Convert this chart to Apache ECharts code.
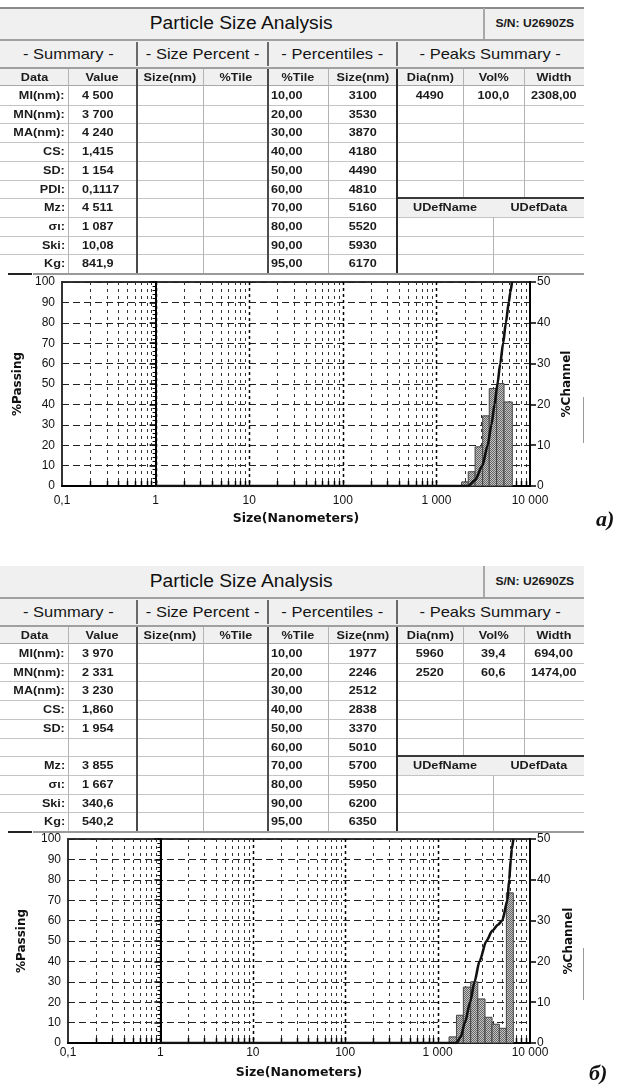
<!DOCTYPE html>
<html>
<head>
<meta charset="utf-8">
<script src="https://cdn.jsdelivr.net/npm/echarts@6/dist/echarts.min.js"></script>
<style>
  html, body { margin: 0; padding: 0; background: #fff; }
  #page { position: relative; width: 619px; height: 1089px; overflow: hidden; }
  #chart { position: absolute; left: 0; top: 0; width: 619px; height: 1089px; }
  .t { position: absolute; white-space: nowrap; font-family: 'Liberation Sans', Arial, sans-serif; color: #1b1b1b; box-sizing: border-box; }
  .t span { display: inline-block; transform: scaleX(1.1); }
  .ln { position: absolute; }
  .plabel { position: absolute; font-family: 'Liberation Serif', 'DejaVu Serif', serif; font-weight: bold; font-style: italic; font-size: 22px; color: #111; }
</style>
</head>
<body>
<div id="page"><div id="chart"></div></div>
<script>
// ---- shared labels ----
const xTickLabels = ['0,1', '1', '10', '100', '1 000', '10 000'];
const tileLabels = ['10,00', '20,00', '30,00', '40,00', '50,00', '60,00', '70,00', '80,00', '90,00', '95,00'];
const headerLabels = ['Data', 'Value', 'Size(nm)', '%Tile', '%Tile', 'Size(nm)', 'Dia(nm)', 'Vol%', 'Width'];
const sectionTitles = ['- Summary -', '- Size Percent -', '- Percentiles -', '- Peaks Summary -'];

// ---- sample а ----
const summaryNamesA = ['MI(nm):', 'MN(nm):', 'MA(nm):', 'CS:', 'SD:', 'PDI:', 'Mz:', 'σι:', 'Ski:', 'Kg:'];
const summaryValuesA = ['4 500', '3 700', '4 240', '1,415', '1 154', '0,1117', '4 511', '1 087', '10,08', '841,9'];
const percentileSizesA = [3100, 3530, 3870, 4180, 4490, 4810, 5160, 5520, 5930, 6170];
const peaksA = [['4490', '100,0', '2308,00']];
const channelEdgesA = [1860, 2190, 2590, 3120, 3670, 4400, 5280, 6470];
const channelPctA = [1.0, 3.5, 9.6, 17.2, 23.9, 25.1, 20.6];
const passSizesA = [1, 2190, 2600, 3100, 3530, 3870, 4180, 4490, 4810, 5160, 5520, 5930, 6170, 6420];
const passPctA = [0, 0, 3, 10, 20, 30, 40, 50, 60, 70, 80, 90, 95, 100];

// ---- sample б ----
const summaryNamesB = ['MI(nm):', 'MN(nm):', 'MA(nm):', 'CS:', 'SD:', '', 'Mz:', 'σι:', 'Ski:', 'Kg:'];
const summaryValuesB = ['3 970', '2 331', '3 230', '1,860', '1 954', '', '3 855', '1 667', '340,6', '540,2'];
const percentileSizesB = [1977, 2246, 2512, 2838, 3370, 5010, 5700, 5950, 6200, 6350];
const peaksB = [['5960', '39,4', '694,00'], ['2520', '60,6', '1474,00']];
const channelEdgesB = [1330, 1600, 1900, 2280, 2720, 3260, 3880, 4660, 5550, 6600];
const channelPctB = [1.5, 6.8, 13.7, 15.0, 10.8, 6.3, 4.6, 3.6, 36.8];
const passSizesB = [1, 1600, 1780, 1977, 2246, 2512, 2838, 3370, 3900, 4500, 5010, 5700, 5950, 6200, 6350, 6600];
const passPctB = [0, 0, 3, 10, 20, 30, 40, 50, 55, 58, 60, 70, 80, 90, 95, 100];

// ---- report tables (HTML) ----
const page = document.getElementById('page');
function rect(x, y, w, h, color) {
  const d = document.createElement('div');
  d.className = 'ln';
  Object.assign(d.style, { left: x + 'px', top: y + 'px', width: w + 'px', height: h + 'px', background: color });
  page.appendChild(d);
}
function text(x, y, w, h, str, o) {
  o = o || {};
  const align = o.align || 'center';
  const d = document.createElement('div');
  d.className = 't';
  Object.assign(d.style, {
    left: x + 'px', top: y + 'px', width: w + 'px', height: h + 'px', lineHeight: h + 'px',
    textAlign: align, fontSize: (o.size || 12) + 'px', fontWeight: o.bold ? 'bold' : 'normal'
  });
  if (o.color) d.style.color = o.color;
  if (o.pad) {
    if (align === 'left') d.style.paddingLeft = o.pad + 'px';
    if (align === 'right') d.style.paddingRight = o.pad + 'px';
  }
  const s = document.createElement('span');
  s.textContent = str;
  s.style.transformOrigin = align === 'left' ? 'left center' : (align === 'right' ? 'right center' : 'center center');
  d.appendChild(s);
  page.appendChild(d);
}

function drawTable(Y, names, values, sizes, peaks, topLine) {
  const W = 584;
  const colX = [0, 68, 137, 203, 268, 328, 397, 463, 524, 584];
  const rowH = 18.7;
  const dataTop = Y + 78;
  const dataBottom = dataTop + rowH * 10;
  const udefTop = dataTop + rowH * 6;

  rect(0, Y, W, 78, '#f0f0f0');
  if (topLine) rect(0, Y - 1, W, 2, '#8a8a8a');
  rect(483, Y, 2, 31, '#a8a8a8');
  rect(0, Y + 31, W, 2, '#a0a0a0');
  rect(0, Y + 59, W, 2, '#a0a0a0');
  [137, 268, 397].forEach(x => rect(x - 1, Y + 34, 2, 24, '#6a6a6a'));

  // cell grid
  rect(0, dataTop - 1, W, 1, '#a8a8a8');
  for (let r = 1; r < 10; r++) rect(0, Math.round(dataTop + r * rowH), W, 1, '#c4c4c4');
  [68, 203, 328].forEach(x => rect(x, Y + 61, 1, dataBottom - Y - 61, '#b4b4b4'));
  [463, 524].forEach(x => rect(x, Y + 61, 1, udefTop - Y - 61, '#b4b4b4'));
  rect(493, udefTop, 1, dataBottom - udefTop, '#b4b4b4');
  rect(397, udefTop, W - 397, rowH, '#f0f0f0');
  rect(397, Math.round(udefTop) - 1, W - 397, 2, '#3a3a3a');
  rect(136, Y + 61, 2, dataBottom - Y - 61, '#4a4a4a');
  rect(267, Y + 61, 2, dataBottom - Y - 61, '#4a4a4a');
  rect(396, Y + 61, 2, dataBottom - Y - 61, '#2a2a2a');
  rect(33, Math.round(dataBottom), W - 33, 2, '#9a9a9a');
  rect(8, Math.round(dataBottom), 24, 2, '#222');

  // texts
  text(0, Y, 483, 31, 'Particle Size Analysis', { size: 17.5, color: '#111' });
  text(485, Y, 99, 31, 'S/N: U2690ZS', { size: 11, bold: true });
  const secSpans = [[0, 137], [137, 268], [268, 397], [397, 584]];
  secSpans.forEach((s, i) => text(s[0], Y + 33, s[1] - s[0], 26, sectionTitles[i], { size: 15, color: '#151515' }));
  headerLabels.forEach((h, i) => text(colX[i], Y + 61, colX[i + 1] - colX[i], 17, h, { size: 11.5, bold: true }));

  for (let r = 0; r < 10; r++) {
    const y = dataTop + r * rowH;
    text(0, y, 68, rowH, names[r], { size: 11.5, bold: true, align: 'right', pad: 3 });
    text(68, y, 69, rowH, values[r], { size: 11.5, bold: true, align: 'left', pad: 14 });
    text(268, y, 60, rowH, tileLabels[r], { size: 11.5, bold: true, align: 'left', pad: 3 });
    text(328, y, 69, rowH, String(sizes[r]), { size: 11.5, bold: true });
  }
  peaks.forEach((p, r) => {
    const y = dataTop + r * rowH;
    p.forEach((v, c) => text(colX[6 + c], y, colX[7 + c] - colX[6 + c], rowH, v, { size: 11.5, bold: true }));
  });
  text(397, udefTop, 96, rowH, 'UDefName', { size: 11.5, bold: true });
  text(493, udefTop, 91, rowH, 'UDefData', { size: 11.5, bold: true });
}

drawTable(8, summaryNamesA, summaryValuesA, percentileSizesA, peaksA, true);
drawTable(566, summaryNamesB, summaryValuesB, percentileSizesB, peaksB, false);

// side marks and panel captions
rect(583, 397, 1, 46, '#9a9a9a');
rect(583, 948, 1, 52, '#9a9a9a');
function caption(x, y, str) {
  const d = document.createElement('div');
  d.className = 'plabel';
  d.style.left = x + 'px';
  d.style.top = y + 'px';
  d.textContent = str;
  page.appendChild(d);
}
caption(596, 506, 'а)');
caption(589, 1060, 'б)');

// ---- charts ----
const pat = document.createElement('canvas');
pat.width = 2; pat.height = 2;
const pg = pat.getContext('2d');
pg.fillStyle = '#c4c4c4'; pg.fillRect(0, 0, 2, 2);
pg.fillStyle = '#666'; pg.fillRect(0, 0, 1, 1); pg.fillRect(1, 1, 1, 1);

const gridLinePos = [];
[-1, 0, 1, 2, 3].forEach(d => {
  for (let m = 1; m <= 9; m++) {
    const p = d + Math.log10(m);
    if (p > -1 && p < 4) gridLinePos.push([p, m === 1 ? 1 : 0]);
  }
});

function renderGridLine(params, api) {
  const x = api.value(0);
  const major = api.value(1) === 1;
  const top = api.coord([x, 100]);
  const bot = api.coord([x, 0]);
  const px = Math.round(top[0]) + 0.5;
  return {
    type: 'group',
    children: [
      { type: 'line', shape: { x1: px, y1: top[1], x2: px, y2: bot[1] },
        style: { stroke: major ? '#000' : '#333', lineWidth: major ? 1.5 : 1, lineDash: major ? [3, 3] : [3, 4] } },
      { type: 'line', shape: { x1: px, y1: bot[1] - 5, x2: px, y2: bot[1] },
        style: { stroke: '#000', lineWidth: 1.5 } }
    ]
  };
}
function renderBar(params, api) {
  const a = api.coord([api.value(0), api.value(2)]);
  const b = api.coord([api.value(1), 0]);
  return {
    type: 'rect',
    shape: { x: a[0], y: a[1], width: b[0] - a[0], height: b[1] - a[1] },
    style: { fill: { image: pat, repeat: 'repeat' }, stroke: '#444', lineWidth: 1 }
  };
}

const tickFont = { fontFamily: 'Liberation Sans, Arial, sans-serif', fontSize: 12, color: '#111' };
const nameFont = { fontFamily: 'DejaVu Sans, sans-serif', fontSize: 12, fontWeight: 'bold', color: '#111' };

function xAxisCfg(i, labelMargin, nameGap) {
  return {
    type: 'value', gridIndex: i, min: -1, max: 4, interval: 1,
    axisLine: { show: true, lineStyle: { color: '#000', width: 2 } },
    axisTick: { show: false },
    splitLine: { show: false },
    axisLabel: Object.assign({ margin: labelMargin, showMinLabel: true, showMaxLabel: true,
      formatter: v => xTickLabels[Math.round(v) + 1] }, tickFont),
    name: 'Size(Nanometers)', nameLocation: 'middle', nameGap: nameGap,
    nameTextStyle: Object.assign({}, nameFont, { fontSize: 12.5 })
  };
}
function leftAxisCfg(i, nameGap) {
  return {
    type: 'value', gridIndex: i, position: 'left', min: 0, max: 100, interval: 10,
    axisLine: { show: true, lineStyle: { color: '#000', width: 2 } },
    axisTick: { show: true, length: 6, lineStyle: { color: '#000', width: 1.5 } },
    minorTick: { show: true, splitNumber: 5, length: 3, lineStyle: { color: '#000', width: 1 } },
    splitLine: { show: true, lineStyle: { color: '#222', width: 1, type: [7, 4] } },
    axisLabel: Object.assign({ margin: 7 }, tickFont),
    name: '%Passing', nameLocation: 'middle', nameRotate: 90, nameGap: nameGap,
    nameTextStyle: nameFont
  };
}
function rightAxisCfg(i, nameGap) {
  return {
    type: 'value', gridIndex: i, position: 'right', min: 0, max: 50, interval: 10,
    axisLine: { show: true, lineStyle: { color: '#000', width: 2 } },
    axisTick: { show: true, length: 6, lineStyle: { color: '#000', width: 1.5 } },
    splitLine: { show: false },
    axisLabel: Object.assign({ margin: 7 }, tickFont),
    name: '%Channel', nameLocation: 'middle', nameRotate: 90, nameGap: nameGap,
    nameTextStyle: nameFont
  };
}
function panelSeries(i, edges, chan, sizes, pct) {
  const bars = chan.map((h, k) => [Math.log10(edges[k]), Math.log10(edges[k + 1]), h]);
  return [
    { type: 'custom', xAxisIndex: i, yAxisIndex: 2 * i, data: gridLinePos, renderItem: renderGridLine,
      encode: { x: 0, y: 1 }, z: 1, silent: true },
    { type: 'custom', xAxisIndex: i, yAxisIndex: 2 * i + 1, data: bars, renderItem: renderBar,
      encode: { x: [0, 1], y: 2 }, z: 2, silent: true },
    { type: 'line', xAxisIndex: i, yAxisIndex: 2 * i, data: sizes.map((s, k) => [Math.log10(s), pct[k]]),
      showSymbol: false, smooth: 0.25, smoothMonotone: 'x', z: 3, silent: true,
      lineStyle: { color: '#111', width: 2.6 } }
  ];
}

const chart = echarts.init(document.getElementById('chart'), null, { renderer: 'canvas' });
chart.setOption({
  animation: false,
  backgroundColor: 'transparent',
  grid: [
    { left: 62, top: 282, width: 468, height: 204, show: true, borderColor: '#333', borderWidth: 2, backgroundColor: '#fff' },
    { left: 68, top: 839, width: 462, height: 204, show: true, borderColor: '#333', borderWidth: 2, backgroundColor: '#fff' }
  ],
  xAxis: [xAxisCfg(0, 9, 26), xAxisCfg(1, 4, 23)],
  yAxis: [leftAxisCfg(0, 38), rightAxisCfg(0, 30), leftAxisCfg(1, 40), rightAxisCfg(1, 33)],
  series: [].concat(
    panelSeries(0, channelEdgesA, channelPctA, passSizesA, passPctA),
    panelSeries(1, channelEdgesB, channelPctB, passSizesB, passPctB)
  )
});
</script>
</body>
</html>
